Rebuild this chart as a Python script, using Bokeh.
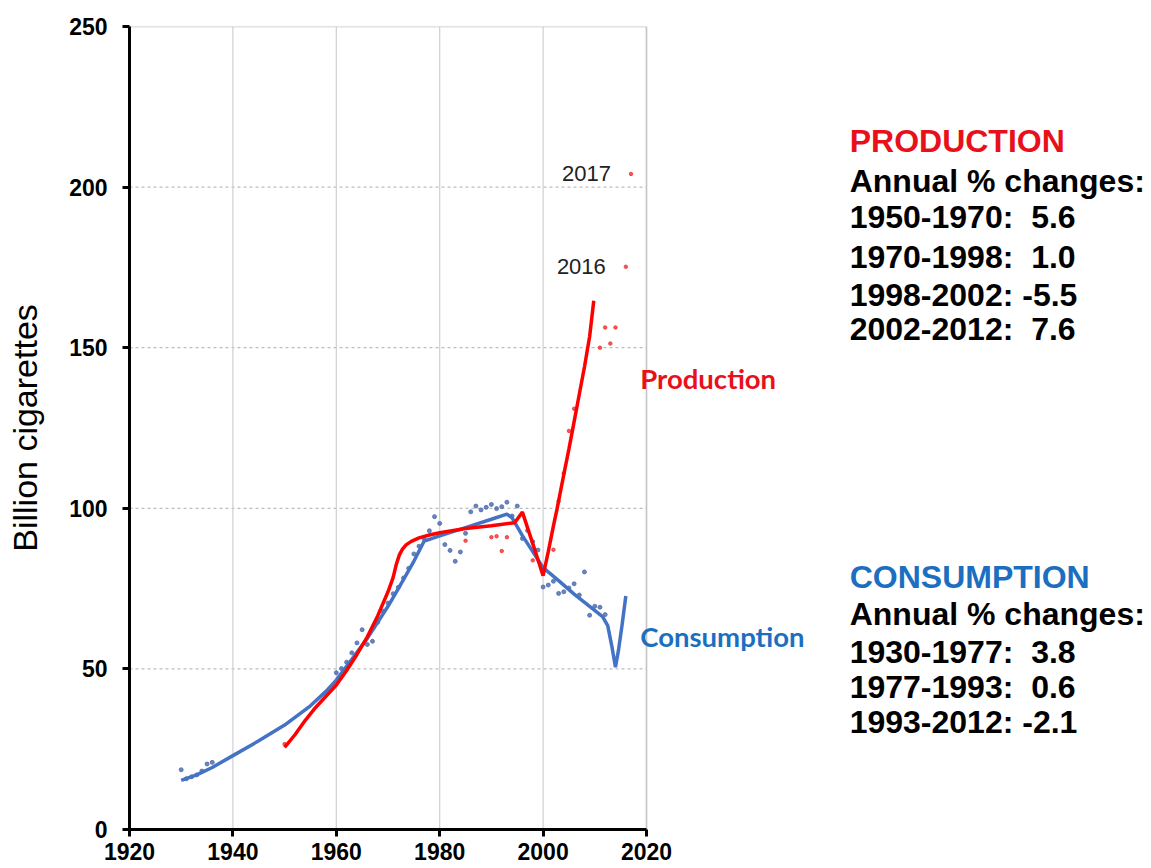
from bokeh.plotting import figure
from bokeh.models import Label, FixedTicker
from bokeh.embed import file_html
from bokeh.resources import INLINE

# ---- data (billion cigarettes) ----
cons_dot_years = [1930, 1931, 1932, 1933, 1934, 1935, 1936,
                  1960, 1961, 1962, 1963, 1964, 1965, 1966, 1967, 1968, 1969, 1970,
                  1971, 1972, 1973, 1974, 1975, 1976, 1977, 1978, 1979, 1980, 1981,
                  1982, 1983, 1984, 1985, 1986, 1987, 1988, 1989, 1990, 1991, 1992,
                  1993, 1994, 1995, 1996, 1997, 1998, 1999, 2000, 2001, 2002, 2003,
                  2004, 2005, 2006, 2007, 2008, 2009, 2010, 2011, 2012]
cons_dot_values = [18.6, 15.8, 16.4, 17.0, 18.2, 20.4, 20.9,
                   48.8, 50.1, 52.1, 55.0, 58.1, 62.2, 57.6, 58.6, 64.5, 68.0, 70.5,
                   73.4, 75.4, 78.3, 81.3, 85.8, 88.2, 90.5, 93.0, 97.4, 95.3, 88.7,
                   86.9, 83.5, 86.4, 92.2, 98.9, 100.7, 99.5, 100.3, 101.2, 99.9, 100.5,
                   101.9, 97.6, 100.7, 90.6, 93.1, 89.6, 87.0, 75.5, 76.1, 77.3, 73.5,
                   74.0, 75.2, 76.5, 73.0, 80.2, 66.7, 69.5, 69.2, 66.9]

prod_dot_years = [1950, 1985, 1990, 1991, 1992, 1993, 1998, 2002, 2003, 2004,
                  2005, 2006, 2011, 2012, 2013, 2014, 2016, 2017]
prod_dot_values = [26.6, 89.9, 91.0, 91.3, 86.7, 91.0, 83.8, 87.1, 102.2, 110.9,
                   124.1, 131.0, 150.0, 156.3, 151.3, 156.3, 175.2, 204.1]

cons_fit_years = [1930, 1933, 1936, 1940, 1945, 1950, 1955, 1958, 1960, 1963, 1966,
                  1968, 1970, 1972, 1975, 1977, 1980, 1985, 1990, 1993, 1994, 1996,
                  1998, 2000, 2003, 2006, 2009, 2011.5, 2012.5, 2013.3, 2014, 2014.6,
                  2015.3, 2016]
cons_fit_values = [15.3, 17.0, 19.3, 23.0, 27.6, 32.5, 38.5, 43.0, 46.5, 53.0, 59.5,
                   64.5, 69.5, 75.0, 83.5, 89.8, 91.4, 94.0, 96.6, 98.2, 97.0, 91.5,
                   86.5, 81.5, 77.5, 73.3, 69.5, 66.3, 63.5, 57.0, 50.5, 56.0,
                   64.0, 72.7]

prod_fit_years = [1950, 1952, 1954, 1956, 1958, 1960, 1962, 1964, 1966, 1968, 1970,
                  1971, 1971.6, 1972.2, 1972.8, 1973.5, 1974.5, 1976, 1978, 1980, 1985,
                  1990, 1994.5, 1996, 1998, 2000, 2001, 2002, 2002.7, 2004, 2005, 2006,
                  2007, 2008, 2009, 2009.8]
prod_fit_values = [25.6, 29.5, 34.0, 38.0, 41.5, 45.0, 49.5, 54.5, 60.0, 66.5, 74.0,
                   78.5, 82.5, 85.5, 87.3, 88.6, 89.7, 90.8, 91.7, 92.4, 93.7,
                   94.6, 95.5, 98.8, 89.0, 79.0, 86.5, 94.5, 99.8, 110.5, 118.5, 127.0,
                   135.5, 144.0, 153.5, 164.6]

x_ticks = [1920, 1940, 1960, 1980, 2000, 2020]
y_ticks = [0, 50, 100, 150, 200, 250]
x_min, x_max = 1920, 2020
y_min, y_max = 0, 250

NB = "\u00a0"
prod_title = "PRODUCTION"
prod_lines = ["Annual % changes:", "1950-1970:" + NB * 2 + "5.6",
              "1970-1998:" + NB * 2 + "1.0", "1998-2002:" + NB + "-5.5",
              "2002-2012:" + NB * 2 + "7.6"]
cons_title = "CONSUMPTION"
cons_lines = ["Annual % changes:", "1930-1977:" + NB * 2 + "3.8",
              "1977-1993:" + NB * 2 + "0.6", "1993-2012:" + NB + "-2.1"]

RED = "#FF0000"
BLUE = "#4472C4"
TXT_RED = "#E8101A"
TXT_BLUE = "#1C6FC0"
FONT = "Liberation Sans"

# frame: chart area 517 px wide for 100 years, extended to the right for the notes
LEFT, TOP, W, H = 129, 26, 1151, 868
frame_w = W - LEFT
x_end = x_min + (x_max - x_min) * frame_w / 517.0

p = figure(width=W, height=H, x_range=(x_min, x_end), y_range=(y_min, y_max),
           output_backend="svg", toolbar_location=None,
           min_border_left=LEFT, min_border_right=0, min_border_top=TOP,
           min_border_bottom=39)

p.outline_line_color = None
p.xgrid.grid_line_color = None
p.ygrid.grid_line_color = None

p.xaxis.ticker = FixedTicker(ticks=x_ticks)
p.yaxis.ticker = FixedTicker(ticks=y_ticks)
p.xaxis.bounds = (x_min, x_max)
for ax in (p.xaxis[0], p.yaxis[0]):
    ax.axis_line_width = 3
    ax.axis_line_color = "black"
    ax.major_tick_line_width = 3
    ax.major_tick_line_color = "black"
    ax.major_tick_out = 7
    ax.major_tick_in = 0
    ax.minor_tick_line_color = None
    ax.major_label_text_font = FONT
    ax.major_label_text_font_style = "bold"
    ax.major_label_text_font_size = "23px"
    ax.major_label_text_color = "black"
p.xaxis.major_label_standoff = 6
p.yaxis.major_label_standoff = 15
p.yaxis.axis_label = "Billion cigarettes"
p.yaxis.axis_label_text_font = FONT
p.yaxis.axis_label_text_font_style = "normal"
p.yaxis.axis_label_text_font_size = "34px"
p.yaxis.axis_label_text_color = "black"
p.yaxis.axis_label_standoff = 22

# grid lines limited to the chart area
inner_y = [v for v in y_ticks if y_min < v < y_max]
inner_x = [v for v in x_ticks if x_min < v < x_max]
p.segment(x0=[x_min] * len(inner_y), y0=inner_y, x1=[x_max] * len(inner_y), y1=inner_y,
          line_color="#BDBDBD", line_dash="3 3", line_width=1.2)
p.segment(x0=inner_x, y0=[y_min] * len(inner_x), x1=inner_x, y1=[y_max] * len(inner_x),
          line_color="#CFCFCF", line_width=1.2)
# top and right borders of the chart area
p.segment(x0=[x_min, x_max], y0=[y_max, y_min], x1=[x_max, x_max], y1=[y_max, y_max],
          line_color="#C4C4C4", line_width=1.6)

# dots
p.scatter(cons_dot_years, cons_dot_values, size=4, color="#5070B0", alpha=0.85)
p.scatter(prod_dot_years, prod_dot_values, size=3.5, color="#F03030", alpha=0.8)

# fitted lines
p.line(cons_fit_years, cons_fit_values, line_color=BLUE, line_width=3.5)
p.line(prod_fit_years, prod_fit_values, line_color=RED, line_width=3.5)

# point labels
for yr in (2016, 2017):
    i = prod_dot_years.index(yr)
    p.add_layout(Label(x=yr, y=prod_dot_values[i], text=str(yr), x_offset=-20,
                       text_align="right", text_baseline="middle",
                       text_font=FONT, text_font_size="22px", text_color="#222222"))

p.add_layout(Label(x=2018.8, y=140.4, text="Production", text_align="left",
                   text_baseline="middle", text_font="Lato", text_font_style="bold",
                   text_font_size="27.5px", text_color=TXT_RED))
p.add_layout(Label(x=2018.8, y=60.1, text="Consumption", text_align="left",
                   text_baseline="middle", text_font="Lato", text_font_style="bold",
                   text_font_size="27.5px", text_color=TXT_BLUE))

# right-hand text blocks
xr = 2059.3
p.add_layout(Label(x=xr, y=214.5, text=prod_title, text_align="left",
                   text_baseline="middle", text_font=FONT, text_font_style="bold",
                   text_font_size="32px", text_color=TXT_RED))
prod_y = [202.0, 190.7, 178.2, 166.3, 155.8]
for t, yy in zip(prod_lines, prod_y):
    p.add_layout(Label(x=xr, y=yy, text=t, text_align="left", text_baseline="middle",
                       text_font=FONT, text_font_style="bold", text_font_size="32px",
                       text_color="black"))

p.add_layout(Label(x=xr, y=78.6, text=cons_title, text_align="left",
                   text_baseline="middle", text_font=FONT, text_font_style="bold",
                   text_font_size="32px", text_color=TXT_BLUE))
cons_y = [67.2, 55.4, 44.5, 33.6]
for t, yy in zip(cons_lines, cons_y):
    p.add_layout(Label(x=xr, y=yy, text=t, text_align="left", text_baseline="middle",
                       text_font=FONT, text_font_style="bold", text_font_size="32px",
                       text_color="black"))

open("out.html", "w").write(file_html(p, INLINE))
